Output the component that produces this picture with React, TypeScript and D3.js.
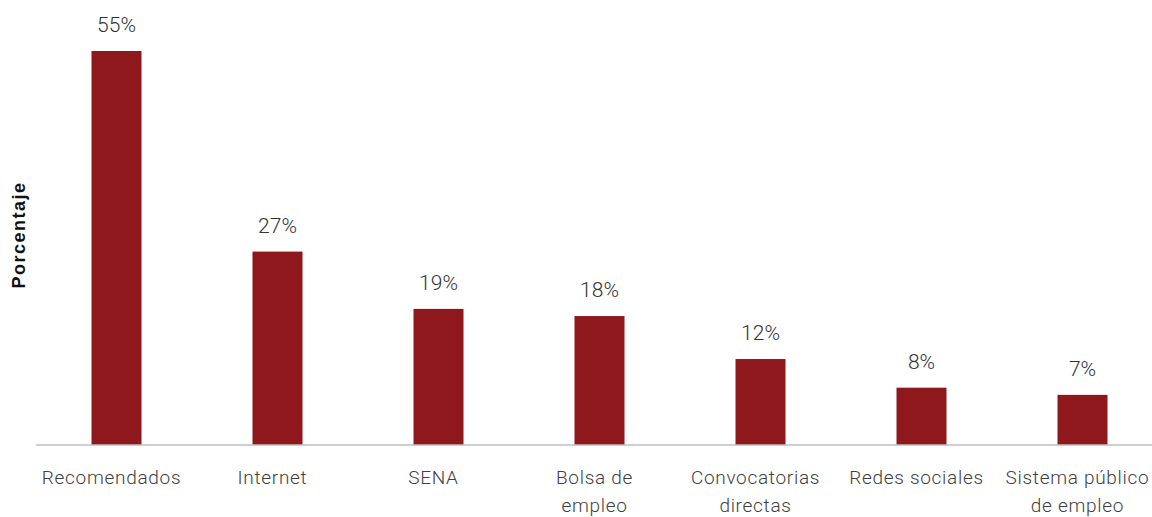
import React from "react";
import * as d3 from "d3";

const categories: string[][] = [
  ["Recomendados"],
  ["Internet"],
  ["SENA"],
  ["Bolsa de", "empleo"],
  ["Convocatorias", "directas"],
  ["Redes sociales"],
  ["Sistema público", "de empleo"],
];
const values: number[] = [55, 27, 19, 18, 12, 8, 7];
const valueLabels: string[] = ["55%", "27%", "19%", "18%", "12%", "8%", "7%"];

const W = 1152;
const H = 517;
const baseY = 445;
const topY = 51;
const left = 36;
const step = 161;
const barW = 50;
const color = "#8E181B";
const font = "Roboto, 'Noto Sans', sans-serif";

export default function App() {
  const ids = categories.map((_, i) => String(i));
  const x = d3
    .scaleBand<string>()
    .domain(ids)
    .range([left, left + step * ids.length])
    .paddingInner(0)
    .paddingOuter(0);
  const y = d3.scaleLinear().domain([0, 55]).range([baseY, topY]);

  return (
    <svg
      width={W}
      height={H}
      style={{ position: "absolute", left: 0, top: 0 }}
      fontFamily={font}
    >
      <rect width={W} height={H} fill="#fff" />
      {values.map((v, i) => {
        const cx = (x(String(i)) as number) + x.bandwidth() / 2;
        return (
          <g key={i}>
            <rect
              x={cx - barW / 2}
              y={y(v)}
              width={barW}
              height={baseY - y(v)}
              fill={color}
            />
            <text
              x={cx}
              y={y(v) - 19}
              textAnchor="middle"
              fontSize={21}
              fontWeight={300}
              fill="#333"
            >
              {valueLabels[i]}
            </text>
            {categories[i].map((line, j) => (
              <text
                key={j}
                x={cx - 5}
                y={484 + j * 28}
                textAnchor="middle"
                fontSize={19}
                fontWeight={300}
                fill="#404040"
                letterSpacing={0.7}
              >
                {line}
              </text>
            ))}
          </g>
        );
      })}
      <line x1={left} x2={W} y1={baseY} y2={baseY} stroke="#bfbfbf" strokeWidth={1.5} />
      <text
        transform={`translate(25,235) rotate(-90)`}
        textAnchor="middle"
        fontSize={18}
        fontWeight={700}
        fill="#111"
        letterSpacing={1.5}
        fontFamily="'Liberation Sans', Arial, sans-serif"
      >
        Porcentaje
      </text>
    </svg>
  );
}
